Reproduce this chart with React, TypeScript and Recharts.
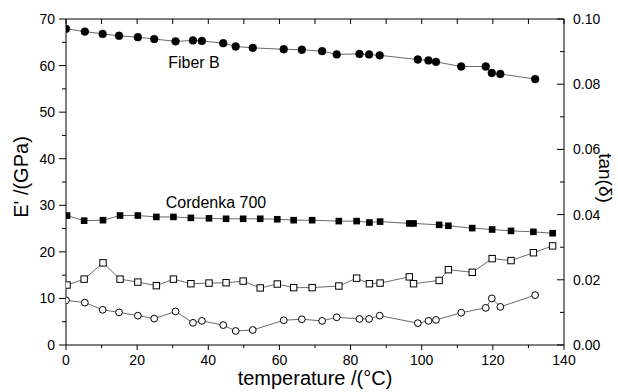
import React from 'react';
import { ScatterChart, Scatter, XAxis, YAxis, Label } from 'recharts';

// Fiber B: temperature (°C), storage modulus E' (GPa), tan(δ)
const fiberBTemp = [0, 5.3, 10.3, 14.9, 20.2, 24.8, 30.8, 35.7, 38.2, 44.2, 47.7, 52.5, 61.2, 66.3, 72.0, 76.1, 82.5, 85.2, 88.2, 98.9, 101.9, 104.0, 111.1, 118.0, 119.7, 122.1, 131.9];
const fiberBModulus = [67.9, 67.3, 66.8, 66.4, 66.1, 65.7, 65.2, 65.4, 65.3, 64.8, 64.1, 63.8, 63.5, 63.4, 63.1, 62.4, 62.5, 62.4, 62.2, 61.3, 61.1, 60.8, 59.8, 59.8, 58.4, 58.2, 57.1];
const fiberBTan = [0.0137, 0.0130, 0.0108, 0.0100, 0.0090, 0.0081, 0.0103, 0.0068, 0.0074, 0.0061, 0.0043, 0.0046, 0.0076, 0.0079, 0.0074, 0.0085, 0.0080, 0.0080, 0.0090, 0.0067, 0.0074, 0.0077, 0.0099, 0.0114, 0.0143, 0.0117, 0.0153];

// Cordenka 700
const cordenkaTemp = [0.3, 5.1, 10.4, 15.2, 20.2, 25.4, 30.2, 35.1, 40.2, 45.0, 49.8, 54.6, 59.4, 64.0, 69.2, 76.7, 81.7, 85.3, 88.3, 96.5, 97.7, 104.9, 107.5, 114.2, 119.8, 125.1, 131.4, 136.8];
const cordenkaModulus = [27.8, 26.7, 26.8, 27.8, 27.8, 27.5, 27.5, 27.3, 27.2, 27.1, 27.1, 27.1, 27.0, 26.8, 26.8, 26.6, 26.6, 26.3, 26.5, 26.1, 26.1, 25.8, 25.6, 25.1, 24.8, 24.5, 24.3, 24.0];
const cordenkaTan = [0.0184, 0.0202, 0.0252, 0.0202, 0.0193, 0.0182, 0.0202, 0.0188, 0.0190, 0.0191, 0.0196, 0.0175, 0.0187, 0.0176, 0.0176, 0.0181, 0.0205, 0.0188, 0.0190, 0.0209, 0.0188, 0.0198, 0.0231, 0.0223, 0.0265, 0.0259, 0.0283, 0.0304];

// Tick values
const xTicks = [0, 10, 20, 30, 40, 50, 60, 70, 80, 90, 100, 110, 120, 130, 140];
const leftTicks = [0, 5, 10, 15, 20, 25, 30, 35, 40, 45, 50, 55, 60, 65, 70];
const rightTicks = [0, 0.01, 0.02, 0.03, 0.04, 0.05, 0.06, 0.07, 0.08, 0.09, 0.1];

const FONT = "Arial, 'Liberation Sans', Helvetica, sans-serif";
const LINE = { stroke: '#444', strokeWidth: 0.8 };

const toPoints = (xs: number[], ys: number[]) => xs.map((x, i) => ({ x, y: ys[i] }));

const fiberBE = toPoints(fiberBTemp, fiberBModulus);
const fiberBT = toPoints(fiberBTemp, fiberBTan);
const cordE = toPoints(cordenkaTemp, cordenkaModulus);
const cordT = toPoints(cordenkaTemp, cordenkaTan);

const FilledCircle = (p: any) => <circle cx={p.cx} cy={p.cy} r={3.9} fill="#000" stroke="#000" strokeWidth={0.5} />;
const OpenCircle = (p: any) => <circle cx={p.cx} cy={p.cy} r={3.4} fill="#fff" stroke="#000" strokeWidth={1} />;
const FilledSquare = (p: any) => <rect x={p.cx - 3.3} y={p.cy - 3.3} width={6.6} height={6.6} fill="#000" />;
const OpenSquare = (p: any) => <rect x={p.cx - 3.2} y={p.cy - 3.2} width={6.4} height={6.4} fill="#fff" stroke="#000" strokeWidth={1} />;

const BottomTick = (p: any) => {
  const v = p.payload.value;
  const major = v % 20 === 0;
  return (
    <g>
      <line x1={p.x} x2={p.x} y1={p.y} y2={p.y + (major ? 5 : 3)} stroke="#000" strokeWidth={1} />
      {major && (
        <text x={p.x} y={p.y + 20} textAnchor="middle" fontSize={14} fontFamily={FONT} fill="#000">{v}</text>
      )}
    </g>
  );
};

const TopTick = (p: any) => (
  <line x1={p.x} x2={p.x} y1={p.y} y2={p.y + 5} stroke="#000" strokeWidth={1} />
);

const LeftTick = (p: any) => {
  const v = p.payload.value;
  const major = v % 10 === 0;
  return (
    <g>
      <line x1={p.x - (major ? 7 : 4)} x2={p.x} y1={p.y} y2={p.y} stroke="#000" strokeWidth={1} />
      {major && (
        <text x={p.x - 11} y={p.y + 5} textAnchor="end" fontSize={14} fontFamily={FONT} fill="#000">{v}</text>
      )}
    </g>
  );
};

const RightTick = (p: any) => {
  const v = p.payload.value;
  const major = Math.round(v * 100) % 2 === 0;
  return (
    <g>
      <line x1={p.x - (major ? 7 : 4)} x2={p.x} y1={p.y} y2={p.y} stroke="#000" strokeWidth={1} />
      {major && (
        <text x={p.x + 9} y={p.y + 5} textAnchor="start" fontSize={14} fontFamily={FONT} fill="#000">{v.toFixed(2)}</text>
      )}
    </g>
  );
};

const TitleText = (props: { x: number; y: number; rotate?: number; size: number; text: string; anchor?: string }) => (
  <text
    x={props.x}
    y={props.y}
    textAnchor={(props.anchor as any) || 'middle'}
    dominantBaseline="central"
    fontSize={props.size}
    fontFamily={FONT}
    fill="#000"
    transform={props.rotate ? `rotate(${props.rotate} ${props.x} ${props.y})` : undefined}
  >
    {props.text}
  </text>
);

export default function App() {
  return (
    <div style={{ position: 'absolute', left: 0, top: 0, width: 618, height: 392, background: '#fff' }}>
      <ScatterChart width={618} height={392} margin={{ top: 18, right: 0, bottom: 0, left: 0 }}>
        <XAxis
          xAxisId="bottom"
          type="number"
          dataKey="x"
          domain={[0, 140]}
          ticks={xTicks}
          interval={0}
          allowDataOverflow
          height={47}
          tickSize={0}
          tickMargin={0}
          tickLine={false}
          axisLine={{ stroke: '#000', strokeWidth: 1 }}
          tick={<BottomTick />}
        >
          <Label content={() => <TitleText x={315} y={378} size={20} text="temperature /(°C)" />} />
        </XAxis>
        <XAxis
          xAxisId="top"
          orientation="top"
          type="number"
          dataKey="x"
          domain={[0, 140]}
          ticks={xTicks}
          interval={0}
          allowDataOverflow
          height={1}
          tickSize={0}
          tickMargin={0}
          tickLine={false}
          axisLine={{ stroke: '#000', strokeWidth: 1 }}
          tick={<TopTick />}
        />
        <YAxis
          yAxisId="E"
          type="number"
          dataKey="y"
          domain={[0, 70]}
          ticks={leftTicks}
          interval={0}
          allowDataOverflow
          width={66}
          tickSize={0}
          tickMargin={0}
          tickLine={false}
          axisLine={{ stroke: '#000', strokeWidth: 1 }}
          tick={<LeftTick />}
        >
          <Label content={() => <TitleText x={21} y={177} rotate={-90} size={20} text="E' /(GPa)" />} />
        </YAxis>
        <YAxis
          yAxisId="tan"
          orientation="right"
          type="number"
          dataKey="y"
          domain={[0, 0.1]}
          ticks={rightTicks}
          interval={0}
          allowDataOverflow
          width={54}
          tickSize={0}
          tickMargin={0}
          tickLine={false}
          axisLine={{ stroke: '#000', strokeWidth: 1 }}
          tick={<RightTick />}
        >
          <Label content={() => <TitleText x={605} y={178} rotate={90} size={19} text="tan(δ)" />} />
        </YAxis>

        <Scatter name="Fiber B E'" data={fiberBE} xAxisId="bottom" yAxisId="E" line={LINE} shape={FilledCircle} isAnimationActive={false} />
        <Scatter name="Cordenka 700 E'" data={cordE} xAxisId="bottom" yAxisId="E" line={LINE} shape={FilledSquare} isAnimationActive={false} />
        <Scatter name="Cordenka 700 tan" data={cordT} xAxisId="bottom" yAxisId="tan" line={LINE} shape={OpenSquare} isAnimationActive={false} />
        <Scatter name="Fiber B tan" data={fiberBT} xAxisId="bottom" yAxisId="tan" line={LINE} shape={OpenCircle} isAnimationActive={false} />
      </ScatterChart>
      <svg width={618} height={392} style={{ position: 'absolute', left: 0, top: 0, pointerEvents: 'none' }}>
        <TitleText x={194} y={62} size={16} text="Fiber B" />
        <TitleText x={216} y={202} size={16} text="Cordenka 700" />
      </svg>
    </div>
  );
}
